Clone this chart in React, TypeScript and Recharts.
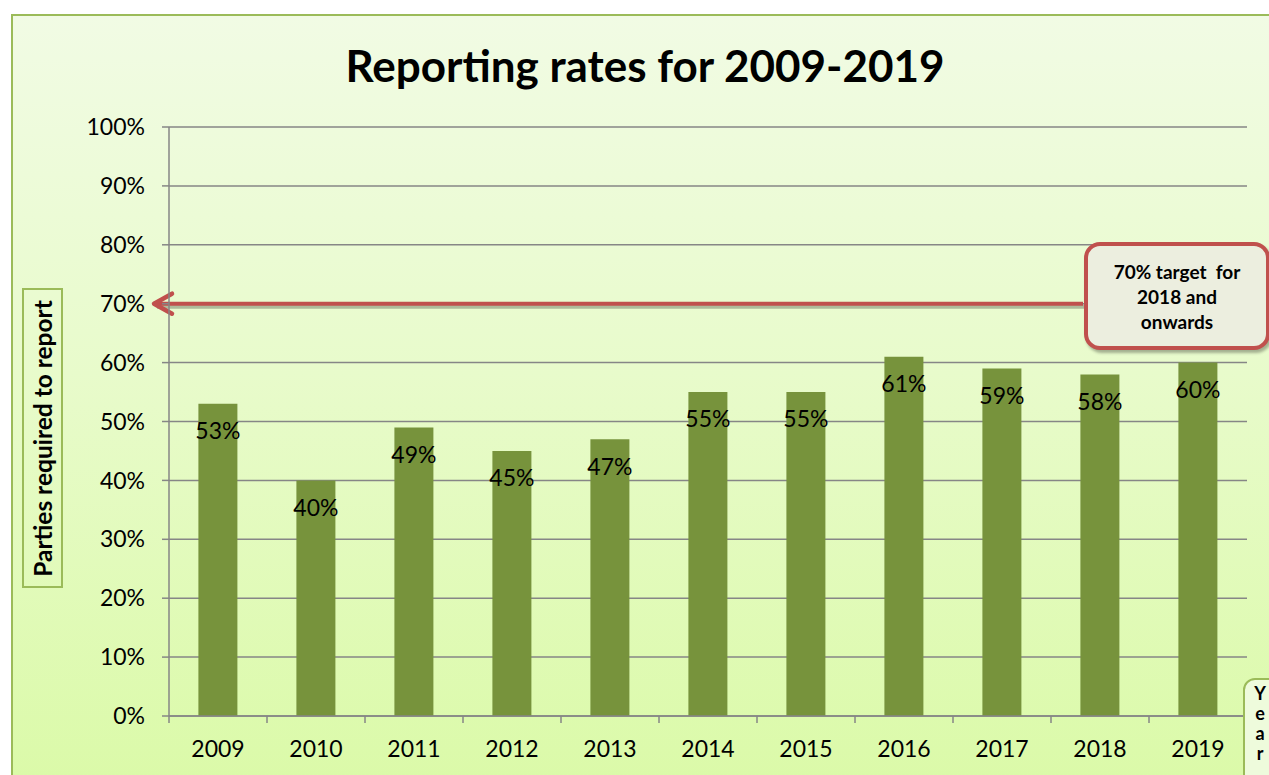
import React from 'react';
import { BarChart, Bar, XAxis, YAxis, CartesianGrid, ReferenceLine, LabelList } from 'recharts';

const years = ['2009', '2010', '2011', '2012', '2013', '2014', '2015', '2016', '2017', '2018', '2019'];
const rates = [53, 40, 49, 45, 47, 55, 55, 61, 59, 58, 60];
const yTicks = [0, 10, 20, 30, 40, 50, 60, 70, 80, 90, 100];
const targetValue = 70;
const targetText = ['70% target  for', '2018 and', 'onwards'];
const chartTitle = 'Reporting rates for 2009-2019';
const yLabel = 'Parties required to report';
const xLabel = 'Year';

const data = years.map((year, i) => ({ year, rate: rates[i] }));

const W = 1269;
const H = 775;
const FONT = 'Lato, "Open Sans", sans-serif';
const GRID = '#868686';
const BAR = '#77933c';
const RED = '#c0504d';

const plotLeft = 169;
const plotRight = 1247;
const band = (plotRight - plotLeft) / years.length;

const XTick = (props: any) => {
  const { x, y, payload, index } = props;
  return (
    <g>
      <line x1={x - band / 2} y1={y - 8} x2={x - band / 2} y2={y - 1} stroke={GRID} strokeWidth={1.5} />
      {index === years.length - 1 && (
        <line x1={x + band / 2} y1={y - 8} x2={x + band / 2} y2={y - 1} stroke={GRID} strokeWidth={1.5} />
      )}
      <text x={x} y={y + 33} textAnchor="middle" fontSize={23} fill="#000">
        {payload.value}
      </text>
    </g>
  );
};

// arrow from the callout box back to the axis
const TargetArrow = (props: any) => {
  const { x1, y1, x2 } = props;
  const tip = x1 - 16;
  const end = x2 - 164;
  return (
    <g>
      <g transform="translate(2,3)" opacity={0.25}>
        <line x1={tip + 2} y1={y1} x2={end} y2={y1} stroke="#000" strokeWidth={4} />
      </g>
      <line x1={tip + 2} y1={y1} x2={end} y2={y1} stroke={RED} strokeWidth={4} />
      <polyline
        points={`${tip + 19},${y1 - 10} ${tip + 1},${y1} ${tip + 19},${y1 + 10}`}
        fill="none"
        stroke={RED}
        strokeWidth={4.5}
        strokeLinecap="round"
        strokeLinejoin="round"
      />
    </g>
  );
};

export default function App() {
  return (
    <div style={{ position: 'absolute', left: 0, top: 0, width: W, height: H, overflow: 'hidden', fontFamily: FONT, background: '#fff' }}>
      <div
        style={{
          position: 'absolute',
          left: 11,
          top: 14,
          width: W + 20,
          height: H + 20,
          border: '2px solid #9bbb59',
          background: 'linear-gradient(180deg, #f1fbe4 0%, #e8fbcb 45%, #dafaa6 100%)',
        }}
      />
      <div
        style={{
          position: 'absolute',
          left: 0,
          width: 1290,
          top: 37,
          textAlign: 'center',
          fontSize: 44,
          lineHeight: '56px',
          fontWeight: 700,
          color: '#000',
        }}
      >
        {chartTitle}
      </div>
      <div style={{ position: 'absolute', left: 0, top: 0 }}>
        <BarChart width={W} height={H} data={data} margin={{ top: 127, right: W - plotRight, left: plotLeft - 70, bottom: 19 }} barCategoryGap="30%">
          <CartesianGrid vertical={false} stroke={GRID} strokeWidth={1.5} />
          <XAxis dataKey="year" height={40} axisLine={{ stroke: GRID, strokeWidth: 1.5 }} tickLine={false} tick={<XTick />} interval={0} />
          <YAxis
            width={70}
            domain={[0, 100]}
            ticks={yTicks}
            tickFormatter={(v) => `${v}%`}
            axisLine={{ stroke: GRID, strokeWidth: 1.5 }}
            tickLine={{ stroke: GRID, strokeWidth: 1.5 }}
            tickSize={7}
            tickMargin={17}
            tick={{ fontSize: 23, fill: '#000' }}
          />
          <Bar dataKey="rate" fill={BAR} isAnimationActive={false}>
            <LabelList dataKey="rate" position="insideTop" offset={19} formatter={(v: any) => `${v}%`} fill="#000" fontSize={23} />
          </Bar>
          <ReferenceLine y={targetValue} shape={<TargetArrow />} />
        </BarChart>
      </div>
      <div
        style={{
          position: 'absolute',
          left: 22,
          top: 288,
          width: 41,
          height: 300,
          border: '2px solid #9bbb59',
          boxSizing: 'border-box',
          display: 'flex',
          alignItems: 'center',
          justifyContent: 'center',
        }}
      >
        <div style={{ transform: 'rotate(-90deg)', whiteSpace: 'nowrap', fontSize: 24.5, fontWeight: 700 }}>{yLabel}</div>
      </div>
      <div
        style={{
          position: 'absolute',
          left: 1084,
          top: 242,
          width: 186,
          height: 108,
          border: `4px solid ${RED}`,
          borderRadius: 16,
          boxSizing: 'border-box',
          background: '#eceedf',
          boxShadow: '2px 3px 3px rgba(0,0,0,0.3)',
          display: 'flex',
          flexDirection: 'column',
          alignItems: 'center',
          justifyContent: 'center',
          fontSize: 19,
          fontWeight: 700,
          lineHeight: '25px',
          whiteSpace: 'pre',
        }}
      >
        {targetText.map((t) => (
          <div key={t}>{t}</div>
        ))}
      </div>
      <div
        style={{
          position: 'absolute',
          left: 1243,
          top: 678,
          width: 40,
          height: 110,
          border: '2px solid #9bbb59',
          borderRadius: 12,
          boxSizing: 'border-box',
          background: '#eefbdc',
          paddingTop: 3,
          paddingLeft: 5,
          fontSize: 18,
          fontWeight: 700,
          lineHeight: '20px',
        }}
      >
        {xLabel.split('').map((c, i) => (
          <div key={i} style={{ width: 20, textAlign: 'center' }}>{c}</div>
        ))}
      </div>
    </div>
  );
}
